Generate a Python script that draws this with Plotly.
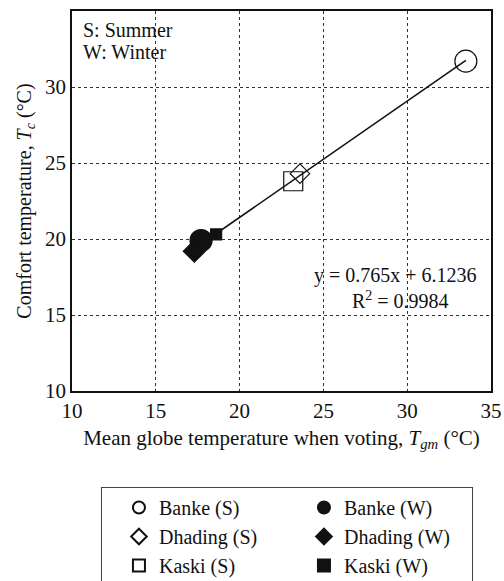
import plotly.graph_objects as go

# Regional mean globe temperature (x) and comfort temperature (y), per season
names = ["Banke (S)", "Banke (W)", "Dhading (S)", "Dhading (W)", "Kaski (S)", "Kaski (W)"]
tgm = [33.5, 17.7, 23.6, 17.3, 23.2, 18.6]
tc = [31.7, 19.9, 24.3, 19.2, 23.8, 20.3]
symbols = ["circle-open", "circle", "diamond-open", "diamond", "square-open", "square"]
sizes = [22, 22, 15, 17, 19, 11]

# Regression line reported on the chart
slope = 0.765
intercept = 6.1236
r_squared = 0.9984

FONT = "Liberation Serif"
INK = "#111111"
FS = 20

fig = go.Figure()

x_min, x_max = min(tgm), max(tgm)
fig.add_trace(go.Scatter(
    x=[x_min, x_max],
    y=[slope * x_min + intercept, slope * x_max + intercept],
    mode="lines", line=dict(color=INK, width=1.6),
    showlegend=False, hoverinfo="skip",
))

for name, x, y, sym, sz in zip(names, tgm, tc, symbols, sizes):
    fig.add_trace(go.Scatter(
        x=[x], y=[y], mode="markers", name=name,
        marker=dict(symbol=sym, size=sz, color=INK,
                    line=dict(color=INK, width=1.2)),
    ))

axis_common = dict(
    showline=True, mirror=True, linecolor=INK, linewidth=1.5,
    showgrid=True, gridcolor="#333333", griddash="dot", gridwidth=1,
    zeroline=False, ticks="", tickfont=dict(size=21, color=INK, family=FONT),
    dtick=5,
)

fig.update_xaxes(
    range=[10, 35], **axis_common,
    title=dict(text="Mean globe temperature when voting, <i>T</i><sub><i>gm</i></sub> (°C)",
               font=dict(size=21, color=INK, family=FONT), standoff=8),
)
fig.update_yaxes(
    range=[10, 35], **axis_common,
    title=dict(text="Comfort temperature, <i>T</i><sub><i>c</i></sub> (°C)",
               font=dict(size=FS, color=INK, family=FONT), standoff=8),
)

# Season key in the upper-left corner
for text, yp in [("S: Summer", 0.95), ("W: Winter", 0.892)]:
    fig.add_annotation(
        xref="paper", yref="paper", x=0.021, y=yp, xanchor="left", yanchor="middle",
        text=text, showarrow=False, font=dict(size=FS, color=INK, family=FONT),
    )

# Regression equation and coefficient of determination
for text, yp, xp in [(f"y = {slope}x + {intercept}", 0.303, 0.772),
                     (f"R<sup>2</sup> = {r_squared}", 0.24, 0.785)]:
    fig.add_annotation(
        xref="paper", yref="paper", x=xp, y=yp, xanchor="center", yanchor="middle",
        text=text, showarrow=False, font=dict(size=FS, color=INK, family=FONT),
    )

fig.update_layout(
    width=504, height=581,
    margin=dict(l=72, r=13, t=11, b=190, autoexpand=False),
    paper_bgcolor="white", plot_bgcolor="white",
    font=dict(family=FONT, color=INK),
    legend=dict(
        orientation="h", x=0.513, xanchor="center", y=-0.2526, yanchor="top",
        entrywidth=123, bordercolor="#444444", borderwidth=1,
        font=dict(size=20, color=INK, family=FONT),
        itemsizing="constant", indentation=17,
    ),
)

fig.write_html("out.html")
